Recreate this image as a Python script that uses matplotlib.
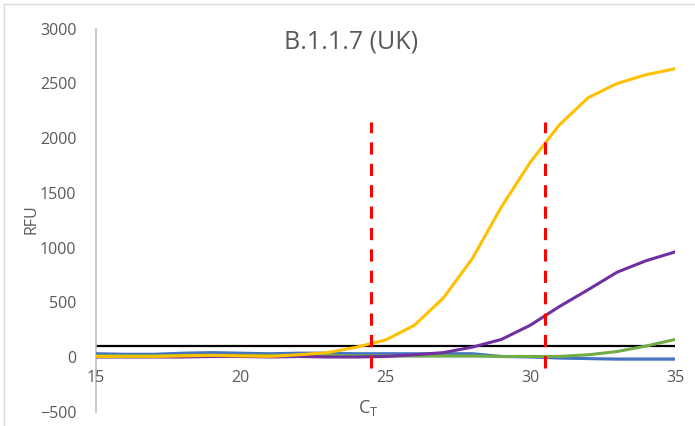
import matplotlib.pyplot as plt
from matplotlib.lines import Line2D

plt.rcParams['font.family'] = ['Open Sans', 'DejaVu Sans']
plt.rcParams['mathtext.fontset'] = 'custom'
plt.rcParams['mathtext.rm'] = 'Open Sans'

# cycle numbers
cycles = list(range(15, 36))

# fluorescence curves (RFU)
blue = [30, 25, 25, 35, 40, 35, 30, 35, 35, 30, 30, 30, 30, 30, 5, 0, -10, -15, -20, -20, -20]
green = [10, 10, 10, 15, 15, 15, 15, 15, 15, 10, 10, 10, 10, 10, 5, 5, 5, 20, 50, 100, 160]
purple = [0, 0, 0, 0, 5, 5, 0, 5, 0, 0, 5, 20, 40, 90, 160, 290, 460, 615, 775, 880, 960]
yellow = [5, 5, 5, 10, 15, 10, 5, 20, 40, 90, 155, 290, 540, 900, 1370, 1780, 2120, 2370, 2500, 2580, 2635]

threshold = 100
ct_marks = [24.5, 30.5]
xticks = [15, 20, 25, 30, 35]
yticks = [-500, 0, 500, 1000, 1500, 2000, 2500, 3000]

fig = plt.figure(figsize=(6.95, 4.26), dpi=100)
ax = fig.add_axes([0.1381, 0.0336, 0.8331, 0.8988])

txt = '#595959'
ax.axhline(0, color='#d9d9d9', lw=1, zorder=1)
ax.plot([cycles[0], cycles[-1]], [threshold, threshold], color='black', lw=1.6, zorder=2)
ax.plot(cycles, blue, color='#4472c4', lw=2.2, zorder=3)
ax.plot(cycles, green, color='#70ad47', lw=2.2, zorder=3)
ax.plot(cycles, purple, color='#7030a0', lw=2.2, zorder=4)
ax.plot(cycles, yellow, color='#ffc000', lw=2.2, zorder=5)
for c in ct_marks:
    ax.plot([c, c], [-100, 2150], color='red', lw=2.2, ls=(0, (4, 3)), zorder=6)

ax.set_xlim(15, 35)
ax.set_ylim(-500, 3000)
ax.set_yticks(yticks)
ax.set_xticks([])
ax.tick_params(axis='y', length=0, labelsize=11.5, labelcolor=txt, pad=14)
for s in ['top', 'right', 'bottom']:
    ax.spines[s].set_visible(False)
ax.spines['left'].set_color('#bfbfbf')
ax.spines['left'].set_linewidth(1.2)

for t in xticks:
    ax.text(t, -190, str(t), ha='center', va='center', fontsize=11.5, color=txt)

ax.text(23.8, 2880, 'B.1.1.7 (UK)', ha='center', va='center', fontsize=18, color=txt)
ax.text(24.4, -470, r'$\mathrm{C_T}$', ha='center', va='center', fontsize=13, color=txt)
fig.text(0.045, 0.485, 'RFU', rotation=90, ha='center', va='center', fontsize=11.5, color=txt)

# light chart frame
fig.add_artist(Line2D([4/695, 1], [1-4/426, 1-4/426], color='#d9d9d9', lw=1))
fig.add_artist(Line2D([4/695, 4/695], [0, 1-4/426], color='#d9d9d9', lw=1))

fig.savefig('out.png', dpi=100)
